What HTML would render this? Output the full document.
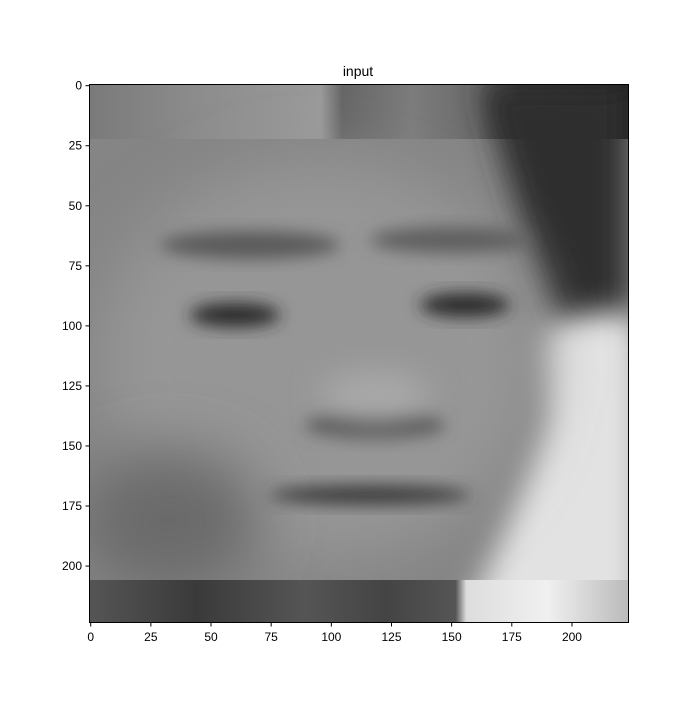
<!DOCTYPE html>
<html><head><meta charset="utf-8"><style>
body{margin:0;background:#fff;}
svg text{font-family:"Liberation Sans",sans-serif;font-size:12px;fill:#000;}
</style></head><body>
<svg width="700" height="700" viewBox="0 0 700 700">
<defs>
<filter id="b8" x="-50%" y="-50%" width="200%" height="200%"><feGaussianBlur stdDeviation="8"/></filter>
<filter id="b15" x="-50%" y="-50%" width="200%" height="200%"><feGaussianBlur stdDeviation="15"/></filter>
<filter id="b30" x="-50%" y="-50%" width="200%" height="200%"><feGaussianBlur stdDeviation="30"/></filter>
<clipPath id="clip"><rect x="89" y="84" width="539" height="538"/></clipPath>
<linearGradient id="topstreak" x1="0" x2="1" y1="0" y2="0">
<stop offset="0" stop-color="#7a7a7a"/><stop offset="0.2" stop-color="#8c8c8c"/><stop offset="0.43" stop-color="#9a9a9a"/><stop offset="0.47" stop-color="#666"/><stop offset="0.6" stop-color="#7c7c7c"/><stop offset="0.72" stop-color="#6a6a6a"/><stop offset="0.8" stop-color="#333"/><stop offset="1" stop-color="#222"/>
</linearGradient>
<linearGradient id="botstreak" x1="0" x2="1" y1="0" y2="0">
<stop offset="0" stop-color="#555"/><stop offset="0.2" stop-color="#3a3a3a"/><stop offset="0.4" stop-color="#555"/><stop offset="0.55" stop-color="#444"/><stop offset="0.68" stop-color="#555"/><stop offset="0.7" stop-color="#ddd"/><stop offset="0.85" stop-color="#f0f0f0"/><stop offset="1" stop-color="#bbb"/>
</linearGradient>
</defs>
<text x="358" y="76" text-anchor="middle" style="font-size:14px">input</text>
<g clip-path="url(#clip)">
<rect x="89" y="84" width="539" height="538" fill="#858585"/>
<rect x="89" y="84" width="539" height="55" fill="url(#topstreak)"/>
<path d="M480 84 L628 84 L628 340 L560 330 L520 220 Z" fill="#2e2e2e" filter="url(#b15)"/>
<path d="M540 330 Q620 300 640 320 L640 630 L455 630 Q500 560 545 420 Z" fill="#e2e2e2" filter="url(#b15)"/>
<ellipse cx="320" cy="360" rx="220" ry="200" fill="#969696" filter="url(#b30)"/>
<ellipse cx="170" cy="520" rx="90" ry="70" fill="#6a6a6a" filter="url(#b30)"/>
<ellipse cx="250" cy="245" rx="90" ry="14" fill="#5a5a5a" filter="url(#b8)"/>
<ellipse cx="450" cy="240" rx="80" ry="13" fill="#5e5e5e" filter="url(#b8)"/>
<ellipse cx="235" cy="315" rx="45" ry="12" fill="#2a2a2a" filter="url(#b8)"/>
<ellipse cx="465" cy="305" rx="45" ry="12" fill="#2a2a2a" filter="url(#b8)"/>
<ellipse cx="375" cy="425" rx="70" ry="14" fill="#5a5a5a" filter="url(#b8)"/>
<ellipse cx="375" cy="395" rx="55" ry="25" fill="#a8a8a8" filter="url(#b15)"/>
<ellipse cx="370" cy="495" rx="100" ry="10" fill="#3c3c3c" filter="url(#b8)"/>
<rect x="89" y="580" width="539" height="42" fill="url(#botstreak)"/>
</g>
<rect x="89.5" y="84.5" width="539" height="538" fill="none" stroke="#000" stroke-width="1"/>
<g id="xt"></g>
<g id="yt"></g>
</svg>
<script>
const xTicks=[0,25,50,75,100,125,150,175,200];
const yTicks=[0,25,50,75,100,125,150,175,200];
const ns="http://www.w3.org/2000/svg";
const sx=v=>89.5+(v+0.5)*539/224;
const sy=v=>84.5+(v+0.5)*538/224;
const xg=document.getElementById('xt'),yg=document.getElementById('yt');
xTicks.forEach(t=>{
 const l=document.createElementNS(ns,'line');
 
 
 l.setAttribute('x1',sx(t));l.setAttribute('x2',sx(t));l.setAttribute('y1',622.5);l.setAttribute('y2',626.5);l.setAttribute('stroke','#000');
 xg.appendChild(l);
 const tx=document.createElementNS(ns,'text');
 
 
 tx.setAttribute('x',sx(t));tx.setAttribute('y',641);tx.setAttribute('text-anchor','middle');tx.textContent=t;
 xg.appendChild(tx);
});
yTicks.forEach(t=>{
 const l=document.createElementNS(ns,'line');
 
 
 l.setAttribute('x1',85.5);l.setAttribute('x2',89.5);l.setAttribute('y1',sy(t));l.setAttribute('y2',sy(t));l.setAttribute('stroke','#000');
 yg.appendChild(l);
 const tx=document.createElementNS(ns,'text');
 
 
 tx.setAttribute('x',82);tx.setAttribute('y',sy(t)+4);tx.setAttribute('text-anchor','end');tx.textContent=t;
 yg.appendChild(tx);
});
</script>
</body></html>
